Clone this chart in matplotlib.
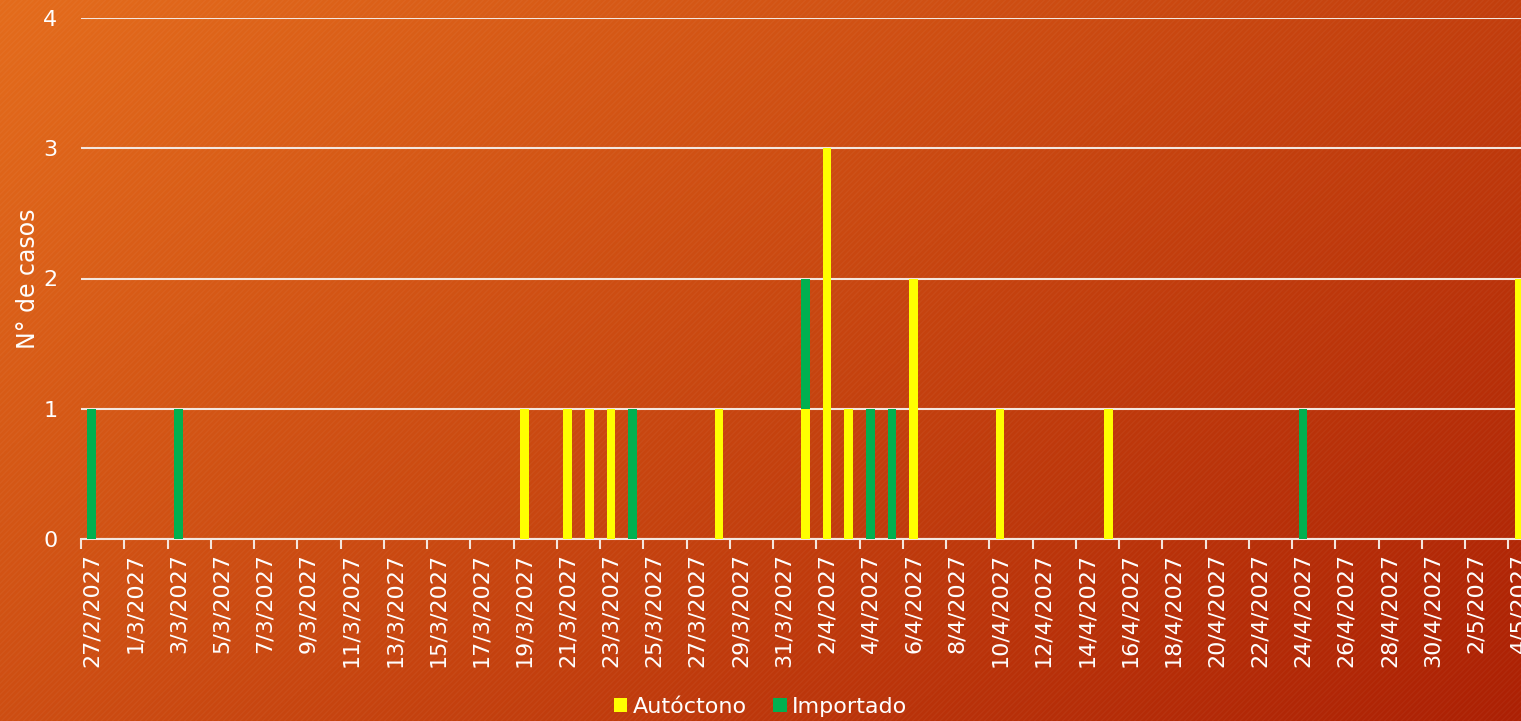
import numpy as np
import pandas as pd
import matplotlib
matplotlib.use("Agg")
from matplotlib import pyplot as plt
from matplotlib.patches import Rectangle

# days shown on the axis
start_date = "2027-02-27"
end_date = "2027-05-04"

# cases per day (only non-zero days)
autoctono_days = ["2027-03-19", "2027-03-21", "2027-03-22", "2027-03-23", "2027-03-28",
                  "2027-04-01", "2027-04-02", "2027-04-03", "2027-04-06", "2027-04-10",
                  "2027-04-15", "2027-05-04"]
autoctono_cases = [1, 1, 1, 1, 1, 1, 3, 1, 2, 1, 1, 2]

importado_days = ["2027-02-27", "2027-03-03", "2027-03-24", "2027-04-01", "2027-04-04",
                  "2027-04-05", "2027-04-24"]
importado_cases = [1, 1, 1, 1, 1, 1, 1]

yellow = "#FFFF00"
green = "#00B050"
txt = "#FFFFFF"

days = pd.date_range(start_date, end_date, freq="D")
auto = pd.Series(0, index=days)
auto[pd.to_datetime(autoctono_days)] = autoctono_cases
imp = pd.Series(0, index=days)
imp[pd.to_datetime(importado_days)] = importado_cases
labels = [f"{d.day}/{d.month}/{d.year}" for d in days]

plt.rcParams["font.family"] = ["DejaVu Sans"]
fig = plt.figure(figsize=(15.21, 7.21), dpi=100)

# background: orange -> dark red gradient with fine diagonal stripes
bg = fig.add_axes([0, 0, 1, 1], zorder=-10)
h, w = 200, 400
yy, xx = np.mgrid[0:h, 0:w]
t = (xx / w * 0.6 + yy / h * 0.4)
c0 = np.array([228, 108, 28]) / 255
c1 = np.array([172, 32, 4]) / 255
img = c0[None, None, :] * (1 - t[..., None]) + c1[None, None, :] * t[..., None]
bg.imshow(img, extent=[0, 1, 0, 1], aspect="auto", origin="upper")
bg.add_patch(Rectangle((0, 0), 1, 1, facecolor="none", edgecolor=(1, 1, 1, 0.04),
                       hatch="//////", lw=0))
bg.set_xlim(0, 1)
bg.set_ylim(0, 1)
bg.axis("off")

ax = fig.add_axes([81 / 1521, 1 - 539 / 721, 1449 / 1521, (539 - 18) / 721])
ax.patch.set_alpha(0)
x = np.arange(len(days))
ax.bar(x, auto.values, width=0.4, color=yellow, zorder=3, label="Autóctono")
ax.bar(x, imp.values, width=0.4, bottom=auto.values, color=green, zorder=3, label="Importado")

ax.set_xlim(-0.5, len(days) - 0.5)
ax.set_ylim(0, 4)
ax.set_yticks([0, 1, 2, 3, 4])
ax.grid(axis="y", color="#F4E6DE", lw=1.5, zorder=1)
ax.grid(axis="x", visible=False)
for s in ["top", "right", "left"]:
    ax.spines[s].set_visible(False)
ax.spines["bottom"].set_color("#F4E6DE")
ax.spines["bottom"].set_linewidth(1.5)

# tick marks between days, labels on every second day
ax.set_xticks(x[::2] - 0.5)
ax.set_xticklabels([])
ax.tick_params(axis="x", which="major", length=7, width=1.5, color="#F4E6DE")
ax.set_xticks(x[::2], minor=True)
ax.set_xticklabels(labels[::2], minor=True, rotation=90, fontsize=16, color=txt)
ax.tick_params(axis="x", which="minor", length=0, pad=10)
ax.tick_params(axis="y", length=0, labelsize=16, labelcolor=txt, pad=17)

ax.set_ylabel("N° de casos", fontsize=17, color=txt, labelpad=2)

fig.legend(loc="lower center", bbox_to_anchor=(0.5, -0.022), ncol=2, frameon=False,
           fontsize=16, labelcolor=txt, handlelength=0.6, handleheight=0.6,
           handletextpad=0.25, columnspacing=1.2)

fig.savefig("out.png", dpi=100)
